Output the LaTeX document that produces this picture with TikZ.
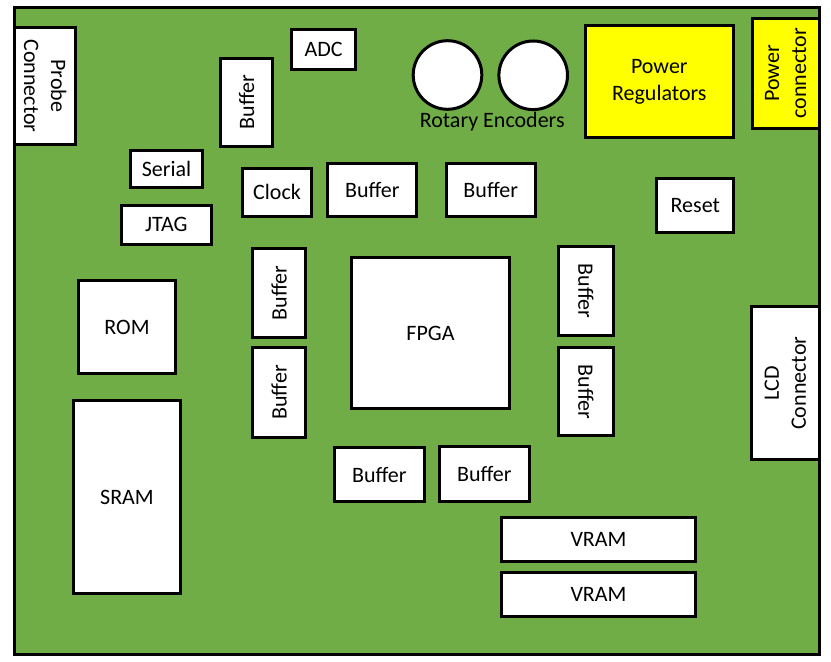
\documentclass[tikz,border=0pt]{standalone}
\usepackage{fontspec}
\setmainfont{Carlito}
\definecolor{pcb}{HTML}{70AD47}
\definecolor{pwr}{HTML}{FFFF00}
\begin{document}
\begin{tikzpicture}[x=1bp,y=-1bp,
  part/.style={draw=black,line width=3bp,fill=white,inner sep=0pt,outer sep=0pt,align=center,
    font=\fontsize{22bp}{27bp}\selectfont},
  power/.style={part,fill=pwr},
  knob/.style={draw=black,line width=3bp,fill=white,circle,inner sep=0pt,minimum size=68.6bp},
  lbl/.style={inner sep=0pt,font=\fontsize{22bp}{27bp}\selectfont}]
\useasboundingbox (0,0) rectangle (831,662);
\draw[line width=3bp,fill=pcb] (14.7,7.7) rectangle (819.2,654);
% top left
\node[part,rotate=-90,minimum width=117bp,minimum height=61bp] (probe) at (45.25,86) {Probe\\Connector};
\node[part,minimum width=64.3bp,minimum height=40bp] (adc) at (323.6,49.5) {ADC};
\node[part,rotate=90,minimum width=88bp,minimum height=52bp] (buftop) at (246.5,102.2) {Buffer};
\node[part,minimum width=72bp,minimum height=37bp] (serial) at (166.5,169) {Serial};
\node[part,minimum width=90.3bp,minimum height=39.3bp] (jtag) at (166.3,224.8) {JTAG};
\node[part,minimum width=69.6bp,minimum height=48.3bp] (clock) at (277,192.3) {Clock};
\node[part,minimum width=89bp,minimum height=53.3bp] (bufa) at (372.3,189.8) {Buffer};
\node[part,minimum width=89bp,minimum height=53.6bp] (bufb) at (490.7,190) {Buffer};
% encoders
\node[knob] (enc1) at (447.5,75) {};
\node[knob] (enc2) at (533.2,75.3) {};
\node[lbl,anchor=base] (enclbl) at (492.2,128) {Rotary Encoders};
% power
\node[power,minimum width=148.3bp,minimum height=111.7bp] (reg) at (659.3,81.7) {Power\\Regulators};
\node[power,rotate=90,minimum width=110.3bp,minimum height=67bp] (pconn) at (785.7,73.3) {Power\\connector};
\node[part,minimum width=77bp,minimum height=54.6bp] (reset) at (695.3,205.5) {Reset};
% middle
\node[part,minimum width=96.4bp,minimum height=92.4bp] (rom) at (127,327) {ROM};
\node[part,rotate=90,minimum width=89bp,minimum height=53.3bp] (bufl1) at (279.2,293.3) {Buffer};
\node[part,rotate=90,minimum width=89.7bp,minimum height=53.3bp] (bufl2) at (279.2,392.3) {Buffer};
\node[part,minimum width=158bp,minimum height=151.3bp] (fpga) at (430.5,333.2) {FPGA};
\node[part,rotate=-90,minimum width=89.3bp,minimum height=54.7bp] (bufr1) at (585.8,291.2) {Buffer};
\node[part,rotate=-90,minimum width=88.3bp,minimum height=54.7bp] (bufr2) at (585.8,391.7) {Buffer};
\node[part,rotate=90,minimum width=152.7bp,minimum height=67.7bp] (lcd) at (785.3,383.2) {LCD\\Connector};
% bottom
\node[part,minimum width=106.4bp,minimum height=193bp] (sram) at (127,497.3) {SRAM};
\node[part,minimum width=89.7bp,minimum height=53.4bp] (bufc) at (379.3,474.5) {Buffer};
\node[part,minimum width=89.7bp,minimum height=54.7bp] (bufd) at (484.3,473.8) {Buffer};
\node[part,minimum width=194bp,minimum height=43.4bp] (vram1) at (598.5,539.5) {VRAM};
\node[part,minimum width=194bp,minimum height=43.7bp] (vram2) at (598.5,594.3) {VRAM};
\end{tikzpicture}
\end{document}
